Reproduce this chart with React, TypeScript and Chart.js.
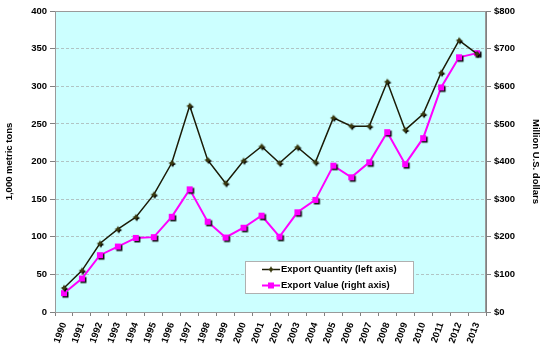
import React, { useEffect, useRef } from "react";
import { Chart, registerables } from "chart.js";

Chart.register(...registerables);

const years = ["1990","1991","1992","1993","1994","1995","1996","1997","1998","1999","2000","2001","2002","2003","2004","2005","2006","2007","2008","2009","2010","2011","2012","2013"];
const exportQuantity = [32, 55, 91, 110, 126, 156, 198, 274, 202, 171, 201, 220, 198, 219, 199, 258, 247, 247, 306, 242, 263, 318, 361, 343];
const exportValue = [50, 89, 151, 174, 197, 199, 253, 326, 240, 198, 224, 256, 200, 265, 298, 389, 358, 398, 478, 393, 462, 597, 677, 688];
const leftTicks = { min: 0, max: 400, step: 50 };
const rightTicks = { min: 0, max: 800, step: 100 };
const seriesNames = ["Export Quantity (left axis)", "Export Value (right axis)"];

const FONT = "Arial, 'Liberation Sans', sans-serif";
const QCOLOR = "#1c1c08";
const VCOLOR = "#ff00ff";

function makeSquareMarker(): HTMLCanvasElement {
  const c = document.createElement("canvas");
  c.width = 12; c.height = 12;
  const g = c.getContext("2d")!;
  g.fillStyle = "#111111";
  g.fillRect(4.5, 4.5, 6, 6);
  g.fillStyle = VCOLOR;
  g.fillRect(3, 3, 6, 6);
  return c;
}

function drawStar(g: CanvasRenderingContext2D, cx: number, cy: number, color: string) {
  g.fillStyle = color;
  g.beginPath();
  g.moveTo(cx, cy - 3.5);
  g.lineTo(cx + 1, cy - 1);
  g.lineTo(cx + 3.5, cy);
  g.lineTo(cx + 1, cy + 1);
  g.lineTo(cx, cy + 3.5);
  g.lineTo(cx - 1, cy + 1);
  g.lineTo(cx - 3.5, cy);
  g.lineTo(cx - 1, cy - 1);
  g.closePath();
  g.fill();
  g.beginPath();
  g.moveTo(cx, cy - 2.2);
  g.lineTo(cx + 2.2, cy);
  g.lineTo(cx, cy + 2.2);
  g.lineTo(cx - 2.2, cy);
  g.closePath();
  g.fill();
}

function makeStarMarker(): HTMLCanvasElement {
  const c = document.createElement("canvas");
  c.width = 12; c.height = 12;
  const g = c.getContext("2d")!;
  drawStar(g, 7, 7, "#000000");
  drawStar(g, 6, 6, "#3a3a10");
  return c;
}

export default function App() {
  const ref = useRef<HTMLCanvasElement | null>(null);

  useEffect(() => {
    if (!ref.current) return;
    const sq = makeSquareMarker();
    const st = makeStarMarker();

    const bgPlugin = {
      id: "areaBg",
      beforeDraw(chart: any) {
        const { ctx, chartArea: a } = chart;
        ctx.save();
        ctx.fillStyle = "#ffffff";
        ctx.fillRect(0, 0, chart.width, chart.height);
        ctx.fillStyle = "#ccffff";
        ctx.fillRect(a.left, a.top, a.right - a.left, a.bottom - a.top);
        ctx.restore();
      },
      afterDatasetsDraw(chart: any) {
        const { ctx, chartArea: a } = chart;
        ctx.save();
        ctx.strokeStyle = "#9a9a9a";
        ctx.lineWidth = 1;
        ctx.strokeRect(a.left + 0.5, a.top + 0.5, a.right - a.left - 1, a.bottom - a.top);
        ctx.restore();
      },
      afterDraw(chart: any) {
        const { ctx } = chart;
        const x0 = 245, y0 = 261, w = 168, h = 32;
        ctx.save();
        ctx.fillStyle = "#ffffff";
        ctx.fillRect(x0, y0, w, h);
        ctx.strokeStyle = "#b0b0b0";
        ctx.lineWidth = 1;
        ctx.strokeRect(x0 + 0.5, y0 + 0.5, w, h);
        const rows = [
          { y: 269.5, color: QCOLOR, lw: 1.5 },
          { y: 285.5, color: VCOLOR, lw: 2 },
        ];
        rows.forEach((r, i) => {
          ctx.strokeStyle = r.color;
          ctx.lineWidth = r.lw;
          ctx.beginPath();
          ctx.moveTo(262, r.y);
          ctx.lineTo(280, r.y);
          ctx.stroke();
          if (i === 0) {
            drawStar(ctx, 271, r.y, "#3a3a10");
          } else {
            ctx.fillStyle = VCOLOR;
            ctx.fillRect(268, r.y - 3, 6, 6);
          }
          ctx.fillStyle = "#000000";
          ctx.font = "bold 9.5px " + FONT;
          ctx.textBaseline = "middle";
          ctx.textAlign = "left";
          ctx.fillText(seriesNames[i], 281, r.y);
        });
        ctx.restore();
      },
    };

    const tickFont = { family: FONT, size: 9.5, weight: "bold" as const };

    const chart = new Chart(ref.current, {
      type: "line",
      data: {
        labels: years,
        datasets: [
          {
            label: seriesNames[0],
            data: exportQuantity,
            yAxisID: "y",
            borderColor: QCOLOR,
            borderWidth: 1.5,
            pointStyle: st as any,
            pointRadius: 4,
            tension: 0,
          },
          {
            label: seriesNames[1],
            data: exportValue,
            yAxisID: "y1",
            borderColor: VCOLOR,
            borderWidth: 2,
            pointStyle: sq as any,
            pointRadius: 4,
            tension: 0,
          },
        ],
      },
      options: {
        responsive: false,
        animation: false,
        devicePixelRatio: 1,
        layout: { padding: { top: 11, left: 0, right: 0, bottom: 0 } },
        plugins: { legend: { display: false }, tooltip: { enabled: false }, title: { display: false } },
        scales: {
          x: {
            type: "category",
            offset: true,
            grid: { display: true, drawOnChartArea: false, offset: true, tickLength: 4, color: "#808080" },
            border: { display: true, color: "#808080" },
            ticks: { font: tickFont, color: "#000", minRotation: 70, maxRotation: 70, padding: 5, autoSkip: false },
            afterFit(s: any) { s.height = 39; },
          },
          y: {
            position: "left",
            min: leftTicks.min,
            max: leftTicks.max,
            ticks: { stepSize: leftTicks.step, font: tickFont, color: "#000", padding: 3 },
            grid: { color: "#b0c4c4", tickColor: "#808080", tickLength: 5 },
            border: { display: true, color: "#808080", dash: [3, 2] },
            title: { display: true, text: "1,000 metric tons", font: tickFont, color: "#000" },
            afterFit(s: any) { s.width = 55; },
          },
          y1: {
            position: "right",
            min: rightTicks.min,
            max: rightTicks.max,
            ticks: { stepSize: rightTicks.step, font: tickFont, color: "#000", padding: 3, callback: (v: any) => "$" + v },
            grid: { drawOnChartArea: false, tickColor: "#808080", tickLength: 5 },
            border: { display: true, color: "#808080" },
            title: { display: true, text: "Million U.S. dollars", font: tickFont, color: "#000" },
            afterFit(s: any) { s.width = 59; },
          },
        },
      },
      plugins: [bgPlugin],
    } as any);

    return () => chart.destroy();
  }, []);

  return (
    <div style={{ position: "fixed", left: 0, top: 0, width: 545, height: 351 }}>
      <canvas ref={ref} width={545} height={351} style={{ width: 545, height: 351 }} />
    </div>
  );
}
